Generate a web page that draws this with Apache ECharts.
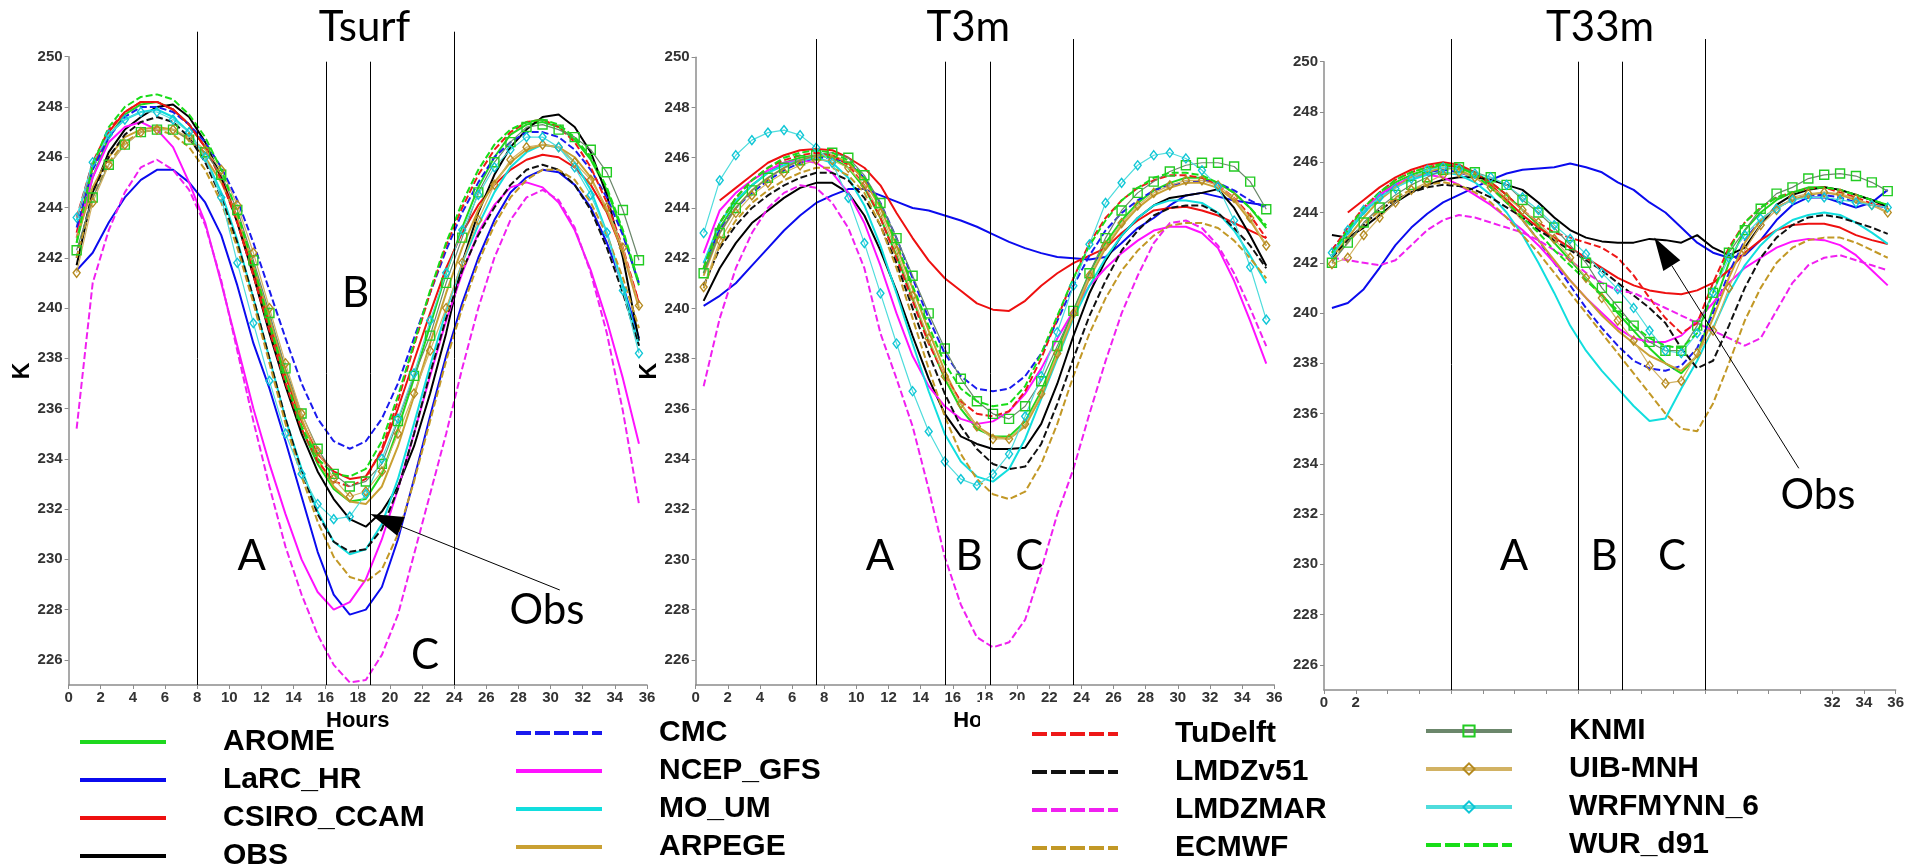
<!DOCTYPE html>
<html>
<head>
<meta charset="utf-8">
<title>Tsurf / T3m / T33m</title>
<script src="https://cdn.jsdelivr.net/npm/echarts@6/dist/echarts.min.js"></script>
<style>
  html, body { margin: 0; padding: 0; background: #ffffff; }
  #chart { width: 1907px; height: 866px; }
</style>
</head>
<body>
<div id="chart"></div>
<script>
// ---- x positions (hours) shared by every series ----
const HOURS = [0.5, 1.5, 2.5, 3.5, 4.5, 5.5, 6.5, 7.5, 8.5, 9.5, 10.5, 11.5, 12.5, 13.5, 14.5, 15.5, 16.5, 17.5,
               18.5, 19.5, 20.5, 21.5, 22.5, 23.5, 24.5, 25.5, 26.5, 27.5, 28.5, 29.5, 30.5, 31.5, 32.5, 33.5, 34.5, 35.5];

// ---- axis ticks ----
const Y_TICKS = [226, 228, 230, 232, 234, 236, 238, 240, 242, 244, 246, 248, 250];
const T33M_X_LABELS = [0, 2, 32, 34, 36];

// ---- panel titles and period boundaries (hours) ----
const PANEL_TITLES = ['Tsurf', 'T3m', 'T33m'];
const BOUNDS_TSURF = [8, 16, 18.75, 24];
const BOUNDS_T3M = [7.5, 15.5, 18.3, 23.5];
const BOUNDS_T33M = [8, 16, 18.75, 24];
const PERIOD_LABELS = ['A', 'B', 'C'];

// ---- observation points the arrows refer to [hour, K] ----
const OBS_POINT_TSURF = [18.78, 231.8];
const OBS_POINT_T33M = [20.8, 243.0];

// ---- models, in legend order ----
const MODELS = ['AROME', 'LaRC_HR', 'CSIRO_CCAM', 'OBS', 'CMC', 'NCEP_GFS', 'MO_UM', 'ARPEGE',
                'TuDelft', 'LMDZv51', 'LMDZMAR', 'ECMWF', 'KNMI', 'UIB-MNH', 'WRFMYNN_6', 'WUR_d91'];

// ================= Tsurf (K) =================
const TSURF_AROME      = [242.6, 245.2, 246.8, 247.7, 248.1, 248.2, 247.9, 247.3, 246.4, 245.2, 243.5, 241.4, 239.2, 237.0, 235.2, 233.8, 232.8, 232.3, 232.4, 233.4, 235.2, 237.2, 239.3, 241.4, 243.2, 244.8, 246.0, 246.9, 247.3, 247.4, 247.2, 246.7, 245.9, 244.7, 243.0, 240.9];
const TSURF_LARC_HR    = [241.5, 242.2, 243.4, 244.4, 245.1, 245.5, 245.5, 245.0, 244.2, 242.9, 240.9, 238.6, 236.8, 234.7, 232.5, 230.3, 228.6, 227.8, 228.0, 228.9, 230.8, 233.2, 235.7, 238.1, 240.2, 242.0, 243.5, 244.6, 245.2, 245.5, 245.4, 244.9, 244.0, 242.6, 240.9, 238.8];
const TSURF_CSIRO_CCAM = [243.0, 245.6, 247.0, 247.8, 248.2, 248.2, 247.9, 247.3, 246.4, 245.2, 243.6, 241.6, 239.4, 237.3, 235.5, 234.2, 233.5, 233.2, 233.3, 234.3, 236.0, 237.9, 239.8, 241.6, 243.0, 244.1, 244.9, 245.5, 245.9, 246.1, 246.0, 245.6, 244.9, 243.8, 242.2, 240.2];
const TSURF_OBS        = [241.7, 244.6, 246.2, 247.1, 247.6, 248.0, 248.1, 247.6, 246.6, 245.2, 243.4, 241.3, 239.0, 236.9, 235.0, 233.5, 232.4, 231.6, 231.3, 231.9, 232.9, 234.5, 236.6, 239.0, 241.8, 243.8, 245.3, 246.4, 247.1, 247.6, 247.7, 247.2, 246.2, 244.5, 242.0, 238.7];
const TSURF_CMC        = [243.2, 245.5, 246.8, 247.6, 248.0, 248.0, 247.8, 247.3, 246.6, 245.6, 244.3, 242.6, 240.7, 238.8, 237.0, 235.6, 234.7, 234.4, 234.7, 235.6, 237.0, 238.8, 240.6, 242.3, 243.8, 245.0, 246.0, 246.6, 247.0, 247.0, 246.8, 246.3, 245.5, 244.4, 242.9, 241.0];
const TSURF_NCEP_GFS   = [242.8, 245.2, 246.6, 247.2, 247.4, 247.1, 246.4, 245.0, 243.4, 241.0, 238.5, 236.0, 233.8, 231.8, 230.0, 228.7, 228.0, 228.3, 229.2, 230.8, 232.8, 235.0, 237.3, 239.5, 241.4, 243.0, 244.1, 244.8, 245.0, 244.8, 244.2, 243.1, 241.5, 239.5, 237.2, 234.6];
const TSURF_MO_UM      = [243.5, 245.8, 246.9, 247.5, 247.8, 247.9, 247.6, 247.0, 246.0, 244.6, 242.7, 240.4, 238.0, 235.6, 233.6, 231.9, 230.7, 230.2, 230.4, 231.4, 233.2, 235.4, 237.7, 239.9, 241.8, 243.3, 244.6, 245.6, 246.2, 246.5, 246.4, 245.8, 244.7, 243.0, 240.9, 238.5];
const TSURF_ARPEGE     = [242.8, 244.8, 246.0, 246.8, 247.1, 247.2, 247.1, 246.7, 246.0, 245.0, 243.6, 241.7, 239.6, 237.5, 235.6, 234.0, 232.9, 232.3, 232.2, 232.9, 234.5, 236.5, 238.6, 240.6, 242.4, 243.9, 245.0, 245.8, 246.3, 246.5, 246.4, 246.0, 245.2, 243.9, 242.2, 240.0];
const TSURF_TUDELFT    = [243.6, 245.8, 247.1, 247.8, 248.2, 248.2, 247.9, 247.3, 246.4, 245.1, 243.4, 241.3, 239.1, 237.0, 235.2, 233.9, 233.1, 232.9, 233.2, 234.4, 236.3, 238.5, 240.6, 242.5, 244.0, 245.3, 246.3, 247.0, 247.4, 247.5, 247.2, 246.6, 245.6, 244.2, 242.4, 240.2];
const TSURF_LMDZV51    = [242.0, 244.6, 246.0, 246.9, 247.4, 247.6, 247.4, 246.8, 245.8, 244.4, 242.6, 240.4, 238.0, 235.6, 233.5, 231.8, 230.7, 230.3, 230.4, 231.2, 232.8, 235.0, 237.4, 239.6, 241.5, 242.9, 244.0, 244.9, 245.5, 245.7, 245.5, 244.9, 243.9, 242.4, 240.6, 238.5];
const TSURF_LMDZMAR    = [235.2, 241.0, 243.1, 244.6, 245.6, 245.9, 245.5, 244.7, 243.3, 241.1, 238.3, 235.5, 232.9, 230.5, 228.6, 227.0, 225.8, 225.1, 225.2, 226.2, 227.8, 230.2, 232.6, 235.0, 237.6, 240.0, 242.0, 243.5, 244.4, 244.7, 244.3, 243.2, 241.4, 239.0, 235.9, 232.2];
const TSURF_ECMWF      = [242.0, 244.4, 245.8, 246.6, 247.0, 247.1, 246.9, 246.4, 245.5, 244.2, 242.4, 240.2, 237.8, 235.4, 233.3, 231.5, 230.1, 229.3, 229.1, 229.6, 231.0, 233.1, 235.5, 237.9, 240.0, 241.8, 243.3, 244.4, 245.1, 245.5, 245.5, 245.1, 244.2, 242.9, 241.2, 239.2];
const TSURF_KNMI       = [242.3, 244.4, 245.7, 246.5, 247.0, 247.1, 247.1, 246.7, 246.2, 245.3, 243.9, 241.9, 239.8, 237.6, 235.8, 234.4, 233.4, 232.9, 233.1, 233.8, 235.5, 237.3, 238.9, 241.0, 242.8, 244.6, 245.8, 246.6, 247.2, 247.3, 247.1, 246.8, 246.3, 245.4, 243.9, 241.9];
const TSURF_UIB_MNH    = [241.4, 244.2, 245.7, 246.5, 247.0, 247.1, 247.1, 246.8, 246.3, 245.5, 244.1, 242.2, 240.0, 237.8, 235.8, 234.3, 233.2, 232.5, 232.7, 233.5, 235.0, 236.6, 238.3, 240.0, 241.8, 243.5, 244.9, 245.9, 246.4, 246.5, 246.4, 245.8, 245.1, 244.0, 242.4, 240.1];
const TSURF_WRFMYNN_6  = [243.6, 245.8, 246.9, 247.5, 247.8, 247.8, 247.5, 247.0, 246.0, 244.4, 241.8, 239.4, 237.1, 235.0, 233.4, 232.2, 231.6, 231.7, 232.6, 234.0, 235.6, 237.4, 239.5, 241.4, 243.1, 244.5, 245.6, 246.3, 246.8, 246.8, 246.4, 245.6, 244.5, 243.0, 240.7, 238.2];
const TSURF_WUR_D91    = [242.6, 245.7, 247.2, 248.0, 248.4, 248.5, 248.3, 247.7, 246.8, 245.5, 243.8, 241.7, 239.4, 237.2, 235.3, 234.0, 233.4, 233.3, 233.6, 234.7, 236.5, 238.6, 240.7, 242.6, 244.2, 245.5, 246.5, 247.1, 247.4, 247.5, 247.3, 246.8, 246.0, 244.8, 243.1, 241.0];

// ================= T3m (K) =================
const T3M_AROME      = [241.4, 243.2, 244.2, 244.9, 245.4, 245.8, 246.0, 246.1, 246.0, 245.6, 244.8, 243.6, 242.1, 240.4, 238.7, 237.2, 236.0, 235.2, 234.9, 234.9, 235.5, 236.7, 238.3, 239.9, 241.4, 242.6, 243.5, 244.2, 244.7, 245.0, 245.2, 245.2, 245.0, 244.6, 244.0, 243.2];
const T3M_LARC_HR    = [240.1, 240.5, 241.0, 241.7, 242.4, 243.1, 243.7, 244.2, 244.5, 244.75, 244.75, 244.5, 244.25, 244.0, 243.9, 243.7, 243.5, 243.25, 242.95, 242.65, 242.4, 242.2, 242.05, 242.0, 241.95, 242.05, 242.6, 243.2, 243.6, 244.1, 244.5, 244.6, 244.45, 244.3, 244.2, 244.1];
const T3M_CSIRO_CCAM = [null, 244.3, 244.8, 245.3, 245.8, 246.1, 246.3, 246.35, 246.3, 246.0, 245.6, 244.9, 243.8, 242.8, 241.9, 241.2, 240.7, 240.2, 239.95, 239.9, 240.3, 240.9, 241.4, 241.8, 242.1, 242.4, 243.0, 243.5, 243.9, 244.0, 244.05, 243.9, 243.7, 243.4, 243.1, 242.8];
const T3M_OBS        = [240.3, 241.6, 242.6, 243.4, 243.9, 244.4, 244.8, 245.0, 245.0, 244.6, 243.7, 242.3, 240.7, 238.9, 237.2, 235.8, 234.9, 234.6, 234.4, 234.4, 234.45, 235.4, 237.0, 238.9, 240.6, 241.9, 242.9, 243.6, 244.1, 244.4, 244.5, 244.6, 244.75, 244.0, 242.9, 241.7];
const T3M_CMC        = [241.8, 243.1, 244.0, 244.6, 245.1, 245.5, 245.8, 246.0, 246.0, 245.8, 245.2, 244.2, 242.8, 241.2, 239.6, 238.2, 237.3, 236.8, 236.7, 236.8, 237.3, 238.2, 239.5, 240.9, 242.1, 243.1, 243.8, 244.3, 244.7, 244.9, 245.0, 245.1, 245.0, 244.7, 244.3, 244.0];
const T3M_NCEP_GFS   = [242.2, 243.9, 244.6, 245.1, 245.5, 245.8, 245.9, 245.8, 245.4, 244.6, 243.4, 241.7, 239.8, 238.1, 236.9, 236.1, 235.6, 235.4, 235.5, 235.9, 236.6, 237.6, 238.8, 239.9, 240.9, 241.6, 242.2, 242.7, 243.1, 243.25, 243.25, 243.0, 242.4, 241.1, 239.5, 237.8];
const T3M_MO_UM      = [241.8, 243.4, 244.3, 244.9, 245.4, 245.7, 245.9, 246.0, 245.8, 245.2, 244.1, 242.5, 240.6, 238.6, 236.7, 235.0, 233.9, 233.3, 233.1, 233.6, 234.8, 236.4, 238.0, 239.6, 240.9, 242.0, 242.9, 243.6, 244.1, 244.3, 244.3, 244.2, 243.8, 243.1, 242.1, 241.0];
const T3M_ARPEGE     = [241.3, 243.0, 244.0, 244.7, 245.2, 245.6, 245.9, 246.1, 246.1, 245.8, 245.1, 244.0, 242.5, 240.8, 239.1, 237.5, 236.2, 235.3, 234.9, 234.8, 235.3, 236.5, 238.1, 239.7, 241.2, 242.4, 243.3, 244.0, 244.5, 244.8, 245.0, 245.0, 244.8, 244.3, 243.5, 242.5];
const T3M_TUDELFT    = [241.6, 243.4, 244.4, 245.1, 245.6, 245.9, 246.1, 246.2, 246.1, 245.7, 244.9, 243.6, 242.0, 240.3, 238.6, 237.3, 236.3, 235.8, 235.7, 235.9, 236.7, 238.0, 239.6, 241.2, 242.6, 243.6, 244.3, 244.8, 245.1, 245.3, 245.3, 245.2, 244.9, 244.4, 243.7, 242.8];
const T3M_LMDZV51    = [240.9, 242.4, 243.3, 244.0, 244.5, 244.9, 245.2, 245.4, 245.4, 245.1, 244.4, 243.3, 241.8, 240.0, 238.2, 236.6, 235.3, 234.4, 233.8, 233.6, 233.7, 234.6, 236.2, 238.0, 239.7, 241.1, 242.3, 243.1, 243.7, 244.0, 244.1, 244.1, 243.8, 243.2, 242.5, 241.6];
const T3M_LMDZMAR    = [236.9, 239.6, 241.6, 243.0, 244.0, 244.6, 244.9, 244.8, 244.2, 243.2, 241.6, 239.0, 237.2, 235.3, 232.8, 230.1, 228.2, 226.9, 226.5, 226.7, 227.6, 229.6, 231.8, 233.6, 235.8, 237.9, 239.8, 241.3, 242.6, 243.4, 243.5, 243.2, 242.5, 241.4, 240.0, 238.5];
const T3M_ECMWF      = [240.8, 242.5, 243.5, 244.2, 244.7, 245.1, 245.4, 245.6, 245.6, 245.3, 244.6, 243.3, 241.6, 239.6, 237.6, 235.7, 234.2, 233.2, 232.6, 232.4, 232.7, 233.8, 235.4, 237.3, 239.0, 240.4, 241.5, 242.3, 242.9, 243.3, 243.4, 243.4, 243.2, 242.7, 242.0, 241.2];
const T3M_KNMI       = [241.4, 243.0, 244.0, 244.7, 245.2, 245.6, 245.9, 246.1, 246.2, 246.0, 245.3, 244.2, 242.8, 241.3, 239.8, 238.4, 237.2, 236.3, 235.8, 235.6, 236.1, 237.1, 238.5, 239.9, 241.4, 242.8, 243.9, 244.6, 245.05, 245.45, 245.7, 245.8, 245.8, 245.65, 245.05, 243.95];
const T3M_UIB_MNH    = [240.85, 242.7, 243.8, 244.5, 245.0, 245.4, 245.7, 245.9, 245.9, 245.6, 244.9, 243.8, 242.3, 240.5, 238.8, 237.3, 236.2, 235.3, 234.8, 234.8, 235.4, 236.6, 238.2, 239.8, 241.3, 242.5, 243.4, 244.1, 244.6, 244.9, 245.1, 245.1, 244.9, 244.4, 243.6, 242.5];
const T3M_WRFMYNN_6  = [243.0, 245.1, 246.1, 246.7, 247.0, 247.1, 246.9, 246.4, 245.8, 244.4, 242.6, 240.6, 238.6, 236.7, 235.1, 233.9, 233.2, 232.95, 233.4, 234.2, 235.7, 237.3, 239.05, 240.9, 242.55, 244.2, 245.0, 245.7, 246.1, 246.2, 245.97, 245.5, 244.85, 243.5, 241.65, 239.55];
const T3M_WUR_D91    = [241.6, 243.4, 244.4, 245.1, 245.6, 246.0, 246.2, 246.3, 246.2, 245.9, 245.2, 244.1, 242.6, 240.9, 239.3, 237.8, 236.8, 236.3, 236.1, 236.2, 236.9, 238.2, 239.7, 241.2, 242.5, 243.5, 244.3, 244.8, 245.2, 245.4, 245.4, 245.3, 245.0, 244.6, 244.0, 243.3];

// ================= T33m (K) =================
const T33M_AROME      = [242.3, 243.2, 244.0, 244.7, 245.2, 245.5, 245.7, 245.9, 245.8, 245.6, 245.2, 244.7, 244.1, 243.5, 242.8, 242.1, 241.4, 240.7, 240.0, 239.3, 238.6, 238.0, 237.6, 238.3, 240.2, 242.0, 243.3, 244.0, 244.5, 244.8, 245.0, 245.0, 244.9, 244.7, 244.5, 244.3];
const T33M_LARC_HR    = [240.2, 240.4, 240.95, 241.8, 242.7, 243.4, 243.95, 244.4, 244.7, 245.0, 245.3, 245.55, 245.7, 245.75, 245.8, 245.95, 245.8, 245.6, 245.2, 244.9, 244.4, 244.0, 243.4, 242.8, 242.4, 242.2, 242.3, 242.9, 243.7, 244.3, 244.6, 244.6, 244.4, 244.2, 244.4, 244.9];
const T33M_CSIRO_CCAM = [null, 244.0, 244.5, 245.0, 245.4, 245.7, 245.9, 246.0, 245.9, 245.6, 245.1, 244.5, 243.9, 243.4, 243.0, 242.6, 242.2, 241.8, 241.4, 241.1, 240.9, 240.8, 240.75, 240.9, 241.2, 241.7, 242.4, 242.9, 243.3, 243.5, 243.55, 243.55, 243.4, 243.1, 242.9, 242.75];
const T33M_OBS        = [243.1, 243.0, 243.4, 243.9, 244.4, 244.8, 245.1, 245.3, 245.4, 245.4, 245.3, 245.1, 244.9, 244.4, 243.8, 243.3, 243.0, 242.85, 242.8, 242.8, 242.95, 242.9, 242.8, 243.1, 242.6, 242.3, 242.6, 243.5, 244.3, 244.7, 244.9, 245.0, 244.9, 244.7, 244.5, 244.2];
const T33M_CMC        = [242.5, 243.3, 244.0, 244.6, 245.1, 245.4, 245.6, 245.7, 245.6, 245.4, 245.0, 244.4, 243.7, 242.9, 242.0, 241.1, 240.2, 239.4, 238.7, 238.1, 237.8, 237.7, 237.9, 238.6, 240.0, 241.6, 242.9, 243.7, 244.2, 244.5, 244.7, 244.7, 244.6, 244.4, 244.3, 244.2];
const T33M_NCEP_GFS   = [242.4, 243.3, 244.1, 244.7, 245.1, 245.4, 245.5, 245.4, 245.1, 244.7, 244.3, 243.8, 243.3, 242.7, 242.0, 241.3, 240.6, 240.0, 239.4, 239.0, 238.85, 238.85, 239.1, 239.7, 240.4, 241.2, 241.8, 242.2, 242.6, 242.85, 242.95, 242.9, 242.7, 242.3, 241.7, 241.1];
const T33M_MO_UM      = [242.3, 243.2, 244.0, 244.6, 245.0, 245.3, 245.5, 245.6, 245.5, 245.2, 244.7, 244.0, 243.1, 242.0, 240.8, 239.5, 238.5, 237.7, 237.0, 236.3, 235.7, 235.8, 237.0, 238.1, 239.4, 240.8, 241.9, 242.7, 243.3, 243.7, 243.9, 244.0, 243.9, 243.6, 243.2, 242.75];
const T33M_ARPEGE     = [242.2, 243.0, 243.8, 244.5, 245.0, 245.4, 245.6, 245.8, 245.7, 245.4, 245.0, 244.4, 243.7, 242.9, 242.1, 241.3, 240.6, 239.9, 239.3, 238.8, 238.3, 238.0, 237.7, 238.3, 239.8, 241.4, 242.8, 243.7, 244.2, 244.5, 244.7, 244.8, 244.7, 244.5, 244.3, 244.0];
const T33M_TUDELFT    = [242.5, 243.4, 244.2, 244.8, 245.3, 245.6, 245.8, 245.9, 245.8, 245.6, 245.2, 244.7, 244.1, 243.6, 243.2, 243.0, 242.8, 242.6, 242.2, 241.5, 240.6, 239.8, 239.2, 239.6, 241.2, 242.6, 243.6, 244.2, 244.6, 244.8, 244.95, 245.0, 244.8, 244.6, 244.35, 244.2];
const T33M_LMDZV51    = [242.2, 242.9, 243.5, 244.1, 244.5, 244.8, 245.0, 245.1, 245.05, 244.9, 244.6, 244.2, 243.8, 243.3, 242.9, 242.5, 242.1, 241.7, 241.2, 240.7, 240.2, 239.6, 238.6, 237.8, 238.1, 239.5, 241.0, 242.2, 243.0, 243.5, 243.8, 243.9, 243.8, 243.6, 243.4, 243.15];
const T33M_LMDZMAR    = [242.2, 242.1, 242.0, 241.9, 242.1, 242.7, 243.3, 243.7, 243.9, 243.8, 243.6, 243.4, 243.2, 242.9, 242.5, 242.1, 241.6, 241.2, 240.9, 240.8, 240.5, 240.2, 239.9, 239.6, 239.3, 239.0, 238.7, 239.0, 240.1, 241.2, 241.9, 242.2, 242.3, 242.1, 241.9, 241.7];
const T33M_ECMWF      = [242.1, 242.8, 243.5, 244.1, 244.6, 244.9, 245.1, 245.2, 245.1, 244.8, 244.4, 243.8, 243.1, 242.4, 241.6, 240.8, 240.0, 239.2, 238.4, 237.6, 236.8, 236.0, 235.4, 235.3, 236.4, 238.0, 239.7, 241.0, 242.0, 242.6, 242.9, 243.0, 243.0, 242.8, 242.5, 242.2];
const T33M_KNMI       = [242.0, 242.8, 243.6, 244.2, 244.7, 245.1, 245.4, 245.7, 245.8, 245.6, 245.4, 245.1, 244.5, 244.0, 243.4, 242.7, 242.0, 241.0, 240.25, 239.5, 238.85, 238.5, 238.5, 239.5, 240.8, 242.4, 243.3, 244.15, 244.75, 245.0, 245.35, 245.5, 245.55, 245.45, 245.2, 244.85];
const T33M_UIB_MNH    = [241.95, 242.2, 243.1, 243.8, 244.4, 244.9, 245.2, 245.5, 245.6, 245.4, 245.0, 244.6, 244.1, 243.6, 242.95, 242.2, 241.4, 240.6, 239.7, 238.9, 237.9, 237.2, 237.3, 238.4, 239.3, 241.0, 242.5, 243.5, 244.1, 244.6, 244.75, 244.8, 244.75, 244.55, 244.3, 244.0];
const T33M_WRFMYNN_6  = [242.4, 243.3, 244.1, 244.6, 244.95, 245.35, 245.7, 245.8, 245.75, 245.55, 245.4, 245.1, 244.6, 244.1, 243.5, 242.95, 242.35, 241.6, 240.95, 240.2, 239.3, 238.5, 238.4, 239.2, 240.8, 242.2, 243.1, 243.75, 244.15, 244.5, 244.6, 244.6, 244.5, 244.4, 244.3, 244.2];
const T33M_WUR_D91    = [242.4, 243.3, 244.2, 244.8, 245.3, 245.6, 245.8, 245.95, 245.8, 245.5, 245.0, 244.4, 243.8, 243.2, 242.5, 241.9, 241.3, 240.7, 240.1, 239.5, 239.0, 238.7, 238.6, 239.2, 240.8, 242.5, 243.6, 244.2, 244.6, 244.8, 244.95, 245.0, 244.9, 244.7, 244.5, 244.3];

// ---- lookup of each panel's arrays by model name ----
const PANEL_SERIES = [
  { 'AROME': TSURF_AROME, 'LaRC_HR': TSURF_LARC_HR, 'CSIRO_CCAM': TSURF_CSIRO_CCAM, 'OBS': TSURF_OBS,
    'CMC': TSURF_CMC, 'NCEP_GFS': TSURF_NCEP_GFS, 'MO_UM': TSURF_MO_UM, 'ARPEGE': TSURF_ARPEGE,
    'TuDelft': TSURF_TUDELFT, 'LMDZv51': TSURF_LMDZV51, 'LMDZMAR': TSURF_LMDZMAR, 'ECMWF': TSURF_ECMWF,
    'KNMI': TSURF_KNMI, 'UIB-MNH': TSURF_UIB_MNH, 'WRFMYNN_6': TSURF_WRFMYNN_6, 'WUR_d91': TSURF_WUR_D91 },
  { 'AROME': T3M_AROME, 'LaRC_HR': T3M_LARC_HR, 'CSIRO_CCAM': T3M_CSIRO_CCAM, 'OBS': T3M_OBS,
    'CMC': T3M_CMC, 'NCEP_GFS': T3M_NCEP_GFS, 'MO_UM': T3M_MO_UM, 'ARPEGE': T3M_ARPEGE,
    'TuDelft': T3M_TUDELFT, 'LMDZv51': T3M_LMDZV51, 'LMDZMAR': T3M_LMDZMAR, 'ECMWF': T3M_ECMWF,
    'KNMI': T3M_KNMI, 'UIB-MNH': T3M_UIB_MNH, 'WRFMYNN_6': T3M_WRFMYNN_6, 'WUR_d91': T3M_WUR_D91 },
  { 'AROME': T33M_AROME, 'LaRC_HR': T33M_LARC_HR, 'CSIRO_CCAM': T33M_CSIRO_CCAM, 'OBS': T33M_OBS,
    'CMC': T33M_CMC, 'NCEP_GFS': T33M_NCEP_GFS, 'MO_UM': T33M_MO_UM, 'ARPEGE': T33M_ARPEGE,
    'TuDelft': T33M_TUDELFT, 'LMDZv51': T33M_LMDZV51, 'LMDZMAR': T33M_LMDZMAR, 'ECMWF': T33M_ECMWF,
    'KNMI': T33M_KNMI, 'UIB-MNH': T33M_UIB_MNH, 'WRFMYNN_6': T33M_WRFMYNN_6, 'WUR_d91': T33M_WUR_D91 }
];
const PANEL_BOUNDS = [BOUNDS_TSURF, BOUNDS_T3M, BOUNDS_T33M];

// ---- line styles per model ----
const DASH = [7, 3];
const LEGEND_DASH = [15, 4];
const MODEL_STYLE = {
  'AROME':      { color: '#1ed81e', type: 'solid', width: 2 },
  'LaRC_HR':    { color: '#0b0bee', type: 'solid', width: 2 },
  'CSIRO_CCAM': { color: '#ee1010', type: 'solid', width: 2 },
  'OBS':        { color: '#000000', type: 'solid', width: 2 },
  'CMC':        { color: '#1a1aee', type: DASH, width: 2 },
  'NCEP_GFS':   { color: '#ff12ff', type: 'solid', width: 2 },
  'MO_UM':      { color: '#12dede', type: 'solid', width: 2 },
  'ARPEGE':     { color: '#c9a032', type: 'solid', width: 2 },
  'TuDelft':    { color: '#ee1818', type: DASH, width: 2 },
  'LMDZv51':    { color: '#111111', type: DASH, width: 2 },
  'LMDZMAR':    { color: '#f020f0', type: DASH, width: 2 },
  'ECMWF':      { color: '#c29826', type: DASH, width: 2 },
  'KNMI':       { color: '#6b876b', type: 'solid', width: 1.2, symbol: 'rect', symbolSize: 9, symbolColor: '#22cc22' },
  'UIB-MNH':    { color: '#d2b263', type: 'solid', width: 1.2, symbol: 'diamond', symbolSize: [7, 9], symbolColor: '#b58a20' },
  'WRFMYNN_6':  { color: '#4fdcdc', type: 'solid', width: 1.2, symbol: 'diamond', symbolSize: [7, 9], symbolColor: '#0fc6d6' },
  'WUR_d91':    { color: '#18dd18', type: DASH, width: 2 }
};

// ---- layout ----
const GRIDS = [
  { left: 68.6, top: 56.7, width: 578.4, height: 628.3 },
  { left: 695.6, top: 57.3, width: 578.7, height: 627.7 },
  { left: 1324, top: 61.7, width: 578, height: 628.3 }
];
const LEGEND_COLUMNS = [
  ['AROME', 'LaRC_HR', 'CSIRO_CCAM', 'OBS'],
  ['CMC', 'NCEP_GFS', 'MO_UM', 'ARPEGE'],
  ['TuDelft', 'LMDZv51', 'LMDZMAR', 'ECMWF'],
  ['KNMI', 'UIB-MNH', 'WRFMYNN_6', 'WUR_d91']
];
const LEGEND_POS = [[78, 727], [514, 718], [1030, 719], [1424, 716]];

const TICK_FONT = { fontFamily: '"Liberation Sans Narrow", "Liberation Sans", Arial, sans-serif', fontWeight: 'bold', fontSize: 15, color: '#333333' };
const AXIS_GREY = '#8c8c8c';

const chart = echarts.init(document.getElementById('chart'), null, { renderer: 'canvas' });

const xAxes = GRIDS.map((g, i) => ({
  gridIndex: i,
  type: 'value',
  min: 0, max: 36, interval: 2,
  name: i < 2 ? 'Hours' : '',
  nameLocation: 'middle',
  nameGap: 20,
  nameTextStyle: { fontFamily: '"Liberation Sans", Arial, sans-serif', fontWeight: 'bold', fontSize: 22, color: '#000' },
  axisLine: { onZero: false, lineStyle: { color: AXIS_GREY, width: 1.5 } },
  axisTick: { length: 4, lineStyle: { color: AXIS_GREY } },
  axisLabel: Object.assign({}, TICK_FONT, {
    margin: 5,
    formatter: v => (i === 2 && T33M_X_LABELS.indexOf(v) < 0) ? '' : String(v)
  }),
  splitLine: { show: false }
}));

const yAxes = GRIDS.map((g, i) => ({
  gridIndex: i,
  type: 'value',
  min: 225, max: 250,
  name: i < 2 ? 'K' : '',
  nameLocation: 'middle',
  nameRotate: 90,
  nameGap: 30,
  nameTextStyle: { fontFamily: '"Liberation Sans", Arial, sans-serif', fontWeight: 'bold', fontSize: 23, color: '#000' },
  axisLine: { show: true, onZero: false, lineStyle: { color: AXIS_GREY, width: 1.5 } },
  axisTick: { show: true, length: 4, customValues: Y_TICKS, lineStyle: { color: AXIS_GREY } },
  axisLabel: Object.assign({}, TICK_FONT, { margin: 6, customValues: Y_TICKS }),
  splitLine: { show: false }
}));

const series = [];
PANEL_SERIES.forEach((panel, i) => {
  MODELS.forEach(name => {
    const st = MODEL_STYLE[name];
    const values = panel[name];
    const marked = !!st.symbol;
    series.push({
      type: 'line',
      name: name,
      xAxisIndex: i,
      yAxisIndex: i,
      data: HOURS.map((h, k) => [h, values[k]]),
      connectNulls: false,
      symbol: marked ? st.symbol : 'none',
      showSymbol: marked,
      symbolSize: marked ? st.symbolSize : 0,
      lineStyle: { color: st.color, width: st.width, type: st.type },
      itemStyle: marked
        ? { color: 'rgba(255,255,255,0)', borderColor: st.symbolColor, borderWidth: 1.4 }
        : { color: st.color },
      emphasis: { disabled: true },
      silent: true,
      z: 2
    });
  });
});

// legend entries: plain lines keep only the line sample, marker series keep their symbol
function legendEntry(n) {
  const st = MODEL_STYLE[n];
  if (st.symbol) return { name: n };
  const entry = { name: n, itemStyle: { opacity: 0 } };
  if (st.type !== 'solid') entry.lineStyle = { type: LEGEND_DASH };
  return entry;
}

const legends = LEGEND_COLUMNS.map((names, c) => ({
  data: names.map(legendEntry),
  orient: 'vertical',
  left: LEGEND_POS[c][0],
  top: LEGEND_POS[c][1],
  height: 180,
  padding: 0,
  itemWidth: 86,
  itemHeight: 14,
  itemGap: 8,
  selectedMode: false,
  lineStyle: { width: 4 },
  textStyle: {
    fontFamily: '"Liberation Sans", Arial, sans-serif',
    fontWeight: 'bold',
    fontSize: 30,
    lineHeight: 30,
    color: '#000',
    padding: [0, 0, 0, 52]
  }
}));

chart.setOption({
  animation: false,
  backgroundColor: '#ffffff',
  grid: GRIDS,
  xAxis: xAxes,
  yAxis: yAxes,
  legend: legends,
  series: series
});

// ---- annotations: panel titles, period boundaries, period letters, observation arrows ----
const px = (gi, x, y) => chart.convertToPixel({ gridIndex: gi }, [x, y]);
const BIG_FONT = { fontFamily: 'Lato, "Open Sans", sans-serif', fontSize: 42, fontWeight: 'normal' };
const TITLE_POS = [[364.5, 27], [968.3, 27], [1600, 27]];
const LETTER_POS = [
  [[251.7, 556.7], [355.6, 293], [425, 655]],
  [[879.9, 556.7], [969.1, 556.7], [1029.3, 556.7]],
  [[1514, 556.7], [1604, 556.7], [1672, 556.7]]
];
const OUTER_TOP = [31.7, 39, 39];
const INNER_TOP = [61.7, 61.7, 61.7];

function bigText(str, x, y) {
  return {
    type: 'text', z: 60, silent: true,
    style: Object.assign({ text: str, x: x, y: y, fill: '#000', textAlign: 'center', textVerticalAlign: 'middle', align: 'center', verticalAlign: 'middle' }, BIG_FONT)
  };
}

function arrow(tail, tipData, gi) {
  const tip = px(gi, tipData[0], tipData[1]);
  const dx = tip[0] - tail[0], dy = tip[1] - tail[1];
  const len = Math.sqrt(dx * dx + dy * dy);
  const ux = dx / len, uy = dy / len;
  const headLen = 33, halfW = 10;
  const bx = tip[0] - ux * headLen, by = tip[1] - uy * headLen;
  return [
    { type: 'line', z: 60, silent: true,
      shape: { x1: tail[0], y1: tail[1], x2: bx, y2: by },
      style: { stroke: '#000', lineWidth: 1 } },
    { type: 'polygon', z: 60, silent: true,
      shape: { points: [tip, [bx - uy * halfW, by + ux * halfW], [bx + uy * halfW, by - ux * halfW]] },
      style: { fill: '#000' } }
  ];
}

const graphics = [];
PANEL_TITLES.forEach((t, i) => graphics.push(bigText(t, TITLE_POS[i][0], TITLE_POS[i][1])));
PANEL_BOUNDS.forEach((bounds, i) => {
  bounds.forEach((b, j) => {
    const p = px(i, b, 225);
    const top = (j === 0 || j === bounds.length - 1) ? OUTER_TOP[i] : INNER_TOP[i];
    graphics.push({
      type: 'line', z: 50, silent: true,
      shape: { x1: Math.round(p[0]) + 0.5, y1: top, x2: Math.round(p[0]) + 0.5, y2: p[1] },
      style: { stroke: '#000', lineWidth: 1 }
    });
  });
  PERIOD_LABELS.forEach((L, k) => graphics.push(bigText(L, LETTER_POS[i][k][0], LETTER_POS[i][k][1])));
});
graphics.push(bigText('Obs', 547, 610));
graphics.push(bigText('Obs', 1818, 495));
arrow([559.8, 590], OBS_POINT_TSURF, 0).forEach(g => graphics.push(g));
arrow([1798.8, 468.3], OBS_POINT_T33M, 2).forEach(g => graphics.push(g));
// white patch over the tail of the middle panel's axis name, under the legend block
graphics.push({ type: 'rect', z: 10, silent: true, shape: { x: 980, y: 700, width: 47, height: 28 }, style: { fill: '#ffffff' } });

chart.setOption({ graphic: graphics });
</script>
</body>
</html>
